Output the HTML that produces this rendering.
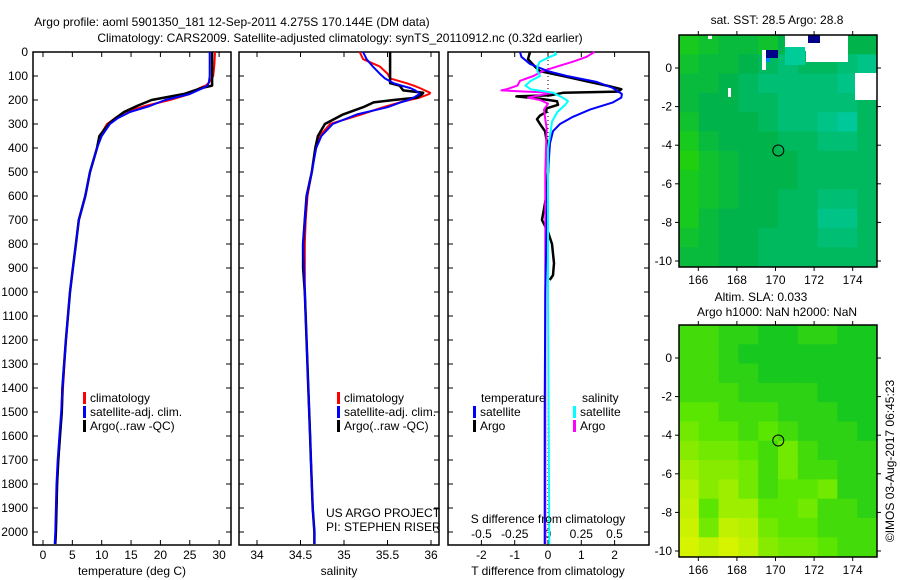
<!DOCTYPE html>
<html><head><meta charset="utf-8"><style>
body{margin:0;background:#fff}
svg{display:block;font-family:"Liberation Sans",sans-serif;font-size:12px}
</style></head><body>
<svg id="c" width="900" height="580" viewBox="0 0 900 580">
<text x="232" y="26" text-anchor="middle">Argo profile: aoml 5901350_181 12-Sep-2011 4.275S 170.144E (DM data)</text>
<text x="340" y="42" text-anchor="middle">Climatology: CARS2009. Satellite-adjusted climatology: synTS_20110912.nc (0.32d earlier)</text>
</svg>
<script>
// ---- data ----
const tDepth=[0,50,100,120,130,140,150,175,200,225,250,275,300,350,400,500,600,700,800,900,1000,1200,1400,1500,1600,1700,1800,1900,2000,2050];
const tClim=[29.3,29.2,29.0,28.5,28.2,27.7,26.7,25.0,21.6,17.4,14.0,12.3,10.9,9.7,9.2,8.0,7.2,6.1,5.6,5.1,4.6,3.9,3.4,3.2,2.9,2.6,2.4,2.3,2.2,2.1];
const tSat=[28.4,28.4,28.4,28.3,28.2,28.0,27.3,25.0,20.8,18.2,14.8,12.8,11.4,10.0,9.2,8.0,7.2,6.1,5.6,5.1,4.6,3.9,3.3,3.1,2.8,2.5,2.3,2.2,2.1,2.0];
const tArgo=[28.8,28.8,28.8,28.8,28.8,28.8,27.0,24.0,18.5,16.0,13.8,12.4,11.2,9.6,9.2,8.0,7.2,6.1,5.6,5.1,4.6,3.9,3.3,3.2,2.9,2.6,2.4,2.3,2.2,2.1];
const sDepth=[0,30,60,90,110,130,140,150,160,170,175,190,200,210,230,260,300,350,400,500,600,700,800,900,1000,1400,1500,1600,1700,1800,1900,2000,2050];
const sClim=[35.18,35.22,35.41,35.5,35.53,35.72,35.8,35.87,35.93,35.99,35.98,35.87,35.75,35.64,35.45,35.2,34.84,34.72,34.67,34.63,34.58,34.56,34.55,34.55,34.55,34.59,34.6,34.61,34.62,34.63,34.64,34.66,34.66];
const sSat=[35.22,35.26,35.33,35.41,35.47,35.57,35.66,35.76,35.82,35.86,35.87,35.8,35.74,35.65,35.5,35.15,34.87,34.74,34.68,34.63,34.57,34.55,34.53,34.54,34.55,34.59,34.6,34.61,34.62,34.63,34.64,34.66,34.66];
const sArgo=[35.53,35.53,35.53,35.53,35.53,35.53,35.64,35.66,35.68,35.91,35.9,35.84,35.57,35.34,35.22,34.99,34.78,34.7,34.67,34.63,34.57,34.55,34.53,34.53,34.55,34.59,34.6,34.61,34.62,34.63,34.64,34.66,34.66];
const dDepthT=[0,20,50,80,100,125,150,175,190,210,240,270,300,330,380,500,800,1000,1500,2050];
const dTsat=[-0.84,-0.8,-0.54,0,0.57,1.47,1.95,2.22,2.2,1.95,1.26,0.75,0.36,0.15,0.06,0,-0.05,-0.08,-0.1,-0.1];
const dDepthTA=[0,30,60,80,100,125,140,155,165,170,180,185,195,205,220,235,250,265,280,300,330,400,500,600,700,750,800,880,930,950];
const dTargo=[-0.54,-0.6,-0.4,-0.24,0.45,1.26,1.77,2.2,2.1,0.45,0.09,-0.95,-0.24,0.27,0.3,-0.05,-0.05,-0.24,-0.33,-0.24,-0.09,0,0,-0.05,-0.18,0,0.12,0.18,0.15,0.05];
const dDepthS=[0,20,40,60,80,100,120,140,155,160,165,170,180,190,200,215,240,280,320,400,500,1000,2050];
const dSargo=[0.35,0.29,0.19,0.07,-0.04,-0.11,-0.21,-0.23,-0.31,-0.35,-0.16,0.03,-0.06,-0.15,-0.06,0,-0.03,-0.02,-0.01,-0.015,-0.02,-0.02,-0.02];
const dDepthSS=[0,10,20,40,60,80,100,120,140,155,170,190,205,220,250,290,330,400,1000,2050];
const dSsat=[0.05,0.06,0.015,-0.06,-0.08,-0.08,-0.06,-0.13,-0.17,-0.13,0.04,0.11,0.15,0.13,0.07,0.03,0.02,0.0,0.0,0.01];
const depthTicks=[0,100,200,300,400,500,600,700,800,900,1000,1100,1200,1300,1400,1500,1600,1700,1800,1900,2000];
const tempTicks=[0,5,10,15,20,25,30];
const salTicks=[34,34.5,35,35.5,36];
const dTTicks=[-2,-1,0,1,2];
const dSTicks=[-0.5,-0.25,0,0.25,0.5];
const dSLabels=["-0.5","-0.25","0","0.25","0.5"];
const lonTicks=[166,168,170,172,174];
const latTicks=[0,-2,-4,-6,-8,-10];
const sstGrid=[
[.2,.3,.4,.4,.3,.5,.6,.5,.5,.5],[.3,.4,.4,.5,.6,.7,.6,.6,.7,.8],[.4,.4,.5,.6,.7,.7,.7,.7,.8,.7],
[.4,.5,.5,.6,.6,.7,.7,.7,.7,.6],[.3,.5,.5,.5,.6,.7,.7,.8,.9,.6],[.2,.4,.5,.5,.5,.6,.6,.7,.7,.6],
[.1,.3,.4,.5,.5,.5,.6,.6,.6,.6],[.2,.3,.4,.5,.5,.5,.6,.6,.6,.6],[.2,.3,.4,.5,.5,.6,.6,.7,.7,.6],
[.2,.4,.5,.5,.5,.6,.6,.8,.8,.6],[.3,.4,.5,.5,.6,.6,.6,.7,.7,.6],[.4,.4,.5,.5,.6,.6,.6,.6,.6,.6]];
const slaGrid=[
[.3,.3,.2,.2,.1,.1,.2,.2,.1,.1],[.3,.3,.2,.1,.1,.1,.1,.1,.1,.1],[.3,.3,.2,.2,.1,.1,.1,.1,.1,.1],
[.3,.3,.3,.2,.2,.2,.2,.1,.1,.1],[.4,.4,.3,.3,.3,.2,.2,.2,.1,.1],[.5,.4,.4,.3,.4,.3,.2,.2,.2,.1],
[.6,.5,.5,.4,.3,.5,.3,.2,.2,.2],[.7,.6,.6,.5,.3,.5,.3,.3,.2,.2],[.8,.6,.7,.5,.3,.4,.4,.5,.2,.2],
[.85,.4,.7,.7,.4,.4,.5,.3,.3,.2],[.9,.5,.85,.8,.5,.4,.4,.3,.3,.3],[.95,.85,.95,.85,.6,.5,.5,.4,.3,.3]];
const floatLon=170.144, floatLat=-4.275;

// ---- drawing ----
const NS="http://www.w3.org/2000/svg";
const svg=document.getElementById('c');
function el(tag,attrs,parent){const e=document.createElementNS(NS,tag);for(const k in attrs)e.setAttribute(k,attrs[k]);(parent||svg).appendChild(e);return e;}
function txt(x,y,s,anchor,parent){const t=el('text',{x:x,y:y,'text-anchor':anchor||'start'},parent);t.textContent=s;return t;}
const TOP=52,BOT=545;
const yD=d=>TOP+d*0.24;
const xT=v=>43+v*5.87;
const xS=v=>257+(v-34)*87;
const xDT=v=>548+v*33.3;
const xDS=v=>548+v*133;
const panels=[{x0:33,x1:231,n:'temperature'},{x0:239,x1:439,n:'salinity'},{x0:448,x1:649,n:'difference'}];
panels.forEach((p,i)=>{
  const g=el('g',{});
  
  
  const r=el('rect',{x:p.x0,y:TOP,width:p.x1-p.x0,height:BOT-TOP,fill:'none',stroke:'#000','stroke-width':1.5},g);
  
  
  depthTicks.forEach(d=>{
    el('line',{x1:p.x0,x2:p.x0+5,y1:yD(d),y2:yD(d),stroke:'#000'},g);
    el('line',{x1:p.x1-5,x2:p.x1,y1:yD(d),y2:yD(d),stroke:'#000'},g);
    if(i===0){const t=txt(28,yD(d)+4,String(d),'end',g);
      
      }
  });
});
function xticks(vals,fx,labels,ly,tickBoth){
  vals.forEach((v,k)=>{
    const x=fx(v);
    el('line',{x1:x,x2:x,y1:BOT,y2:BOT-5,stroke:'#000'});
    if(tickBoth)el('line',{x1:x,x2:x,y1:TOP,y2:TOP+5,stroke:'#000'});
    const t=txt(x,ly,labels?labels[k]:String(v),'middle');
    
    
  });
}
xticks(tempTicks,xT,null,559,true);
xticks(salTicks,xS,null,559,true);
xticks(dTTicks,xDT,null,559,true);
dSTicks.forEach((v,k)=>{const t=txt(xDS(v),538,dSLabels[k],'middle');
  
  });
function line(depths,vals,fx,color,name,w){
  const pts=depths.map((d,k)=>fx(vals[k]).toFixed(1)+','+yD(d).toFixed(1)).join(' ');
  const l=el('polyline',{points:pts,fill:'none',stroke:color,'stroke-width':w||2,'stroke-linejoin':'round'});
  
  
}
line(tDepth,tClim,xT,'#f00','temp-climatology-line');
line(tDepth,tArgo,xT,'#000','temp-argo-line',2.5);
line(tDepth,tSat,xT,'#00f','temp-satellite-line');
line(sDepth,sClim,xS,'#f00','sal-climatology-line');
line(sDepth,sArgo,xS,'#000','sal-argo-line',2.5);
line(sDepth,sSat,xS,'#00f','sal-satellite-line');
const zl=el('line',{x1:548,x2:548,y1:TOP,y2:BOT,stroke:'#000','stroke-dasharray':'1,3'});


line(dDepthTA,dTargo,xDT,'#000','dT-argo-line',2.5);
line(dDepthS,dSargo,xDS,'#f0f','dS-argo-line');
line(dDepthT,dTsat,xDT,'#00f','dT-satellite-line');
line(dDepthSS,dSsat,xDS,'#0ff','dS-satellite-line');
// axis titles
[[132,575,'temperature (deg C)'],[339,575,'salinity'],[548,575,'T difference from climatology'],[548,523,'S difference from climatology']].forEach(a=>{
  const t=txt(a[0],a[1],a[2],'middle');
  
  
});
// legends
function legend(x,y,color,label){
  const g=el('g',{});
  
  
  el('rect',{x:x,y:y-10,width:3,height:12,fill:color},g);
  txt(x+7,y,label,'start',g);
}
[['#f00','climatology'],['#00f','satellite-adj. clim.'],['#000','Argo(..raw -QC)']].forEach((e,k)=>{
  legend(83,402+k*14,e[0],e[1]);legend(337,402+k*14,e[0],e[1]);
});
txt(481,402,'temperature');txt(582,402,'salinity');
legend(473,416,'#00f','satellite');legend(473,430,'#000','Argo');
legend(573,416,'#0ff','satellite');legend(573,430,'#f0f','Argo');
txt(326,517,'US ARGO PROJECT');txt(326,531,'PI: STEPHEN RISER');
// maps
const MX0=679,MX1=877,LON0=165,pxLon=19.3,pxLat=19.3;
const mx=lon=>MX0+(lon-LON0)*pxLon;
function sstColor(v){const a=[40,215,0],b=[0,180,75],c=[0,205,175];
  let p,q,t;if(v<.5){p=a;q=b;t=v/.5}else{p=b;q=c;t=(v-.5)/.5}
  return 'rgb('+p.map((x,i)=>Math.round(x+(q[i]-x)*t)).join(',')+')';}
function slaColor(v){const a=[0,190,40],b=[90,230,0],c=[225,245,0];
  let p,q,t;if(v<.4){p=a;q=b;t=v/.4}else{p=b;q=c;t=(v-.4)/.6}
  return 'rgb('+p.map((x,i)=>Math.round(x+(q[i]-x)*t)).join(',')+')';}
function map(y0,y1,zeroY,grid,colf,name){
  const my=lat=>zeroY-lat*pxLat;
  const g=el('g',{});
  
  
  const cp=el('clipPath',{id:'cp'+name},g);
  el('rect',{x:MX0,y:y0,width:MX1-MX0,height:y1-y0},cp);
  const cg=el('g',{'clip-path':'url(#cp'+name+')'},g);
  const topLat=(zeroY-y0)/pxLat;
  const cw=(MX1-MX0)/10;
  grid.forEach((row,r)=>row.forEach((v,c)=>{
    const cell=el('rect',{x:MX0+c*cw,y:my(topLat-r),width:cw+0.5,height:pxLat+0.5,fill:colf(v)},cg);
    
    
  }));
  g._cg=cg;
  el('rect',{x:MX0,y:y0,width:MX1-MX0,height:y1-y0,fill:'none',stroke:'#000','stroke-width':1.5},g);
  lonTicks.forEach(l=>{el('line',{x1:mx(l),x2:mx(l),y1:y1,y2:y1+4,stroke:'#000'},g);
    el('line',{x1:mx(l),x2:mx(l),y1:y0,y2:y0-4,stroke:'#000'},g);
    txt(mx(l),y1+17,String(l),'middle',g);});
  latTicks.forEach(l=>{el('line',{x1:MX0,x2:MX0-4,y1:my(l),y2:my(l),stroke:'#000'},g);
    el('line',{x1:MX1,x2:MX1+4,y1:my(l),y2:my(l),stroke:'#000'},g);
    txt(672,my(l)+4,String(l),'end',g);});
  const m=el('circle',{cx:mx(floatLon),cy:my(floatLat),r:5.5,fill:'none',stroke:'#000'},g);
  
  
  return g;
}
const m1=map(35,267,68,sstGrid,sstColor,'sst-map');
[[785,35,63,16,'#fff'],[806,35,42,27,'#fff'],[785,47,20,18,'#0c9'],[762,50,4,20,'#fff'],[766,50,12,8,'#008'],[766,58,4,4,'#08f'],[808,35,12,8,'#008'],[855,73,22,27,'#fff'],[728,88,3,9,'#fff'],[708,35,4,4,'#fff']].forEach(r=>{
  const e=el('rect',{x:r[0],y:r[1],width:r[2],height:r[3],fill:r[4]},m1._cg);
  
  
});
map(325,557,358,slaGrid,slaColor,'sla-map');
txt(777,24,'sat. SST: 28.5 Argo: 28.8','middle');
txt(761,301,'Altim. SLA: 0.033','middle');
txt(777,316,'Argo h1000: NaN h2000: NaN','middle');
const cr=txt(0,0,'\u00a9IMOS 03-Aug-2017 06:45:23','middle');
cr.setAttribute('transform','translate(894,461) rotate(-90)');


</script>
</body></html>
